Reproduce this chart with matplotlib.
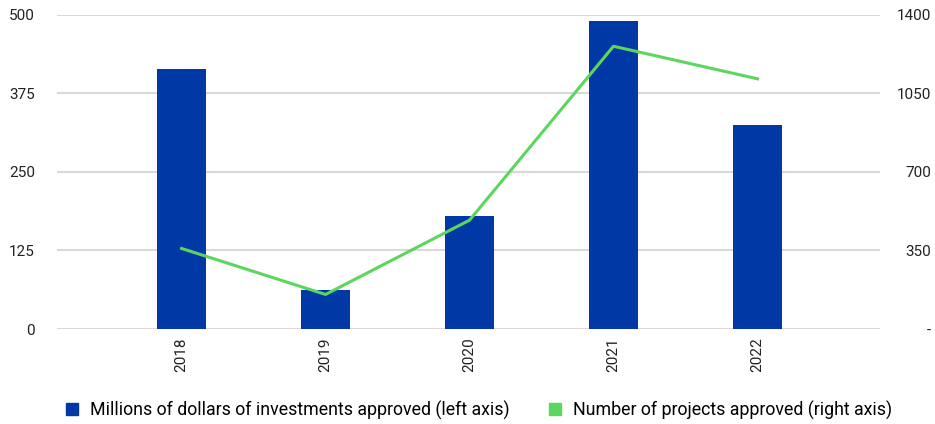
import numpy as np
import matplotlib.pyplot as plt
from matplotlib.lines import Line2D

years = ["2018", "2019", "2020", "2021", "2022"]
investments = [414, 62, 180, 490, 324]      # millions of dollars (left axis)
projects = [359, 154, 485, 1260, 1115]      # number of projects (right axis)
left_ticks = [0, 125, 250, 375, 500]
right_ticks = [0, 350, 700, 1050, 1400]
right_labels = ["-", "350", "700", "1050", "1400"]

bar_color = "#0039a6"
line_color = "#5cd65c"
grid_color = "#d9d9d9"

plt.rcParams['font.family'] = ['Roboto', 'DejaVu Sans']

fig = plt.figure(figsize=(9.35, 4.24), dpi=100)
ax = fig.add_axes([0.061, 0.224, 0.880, 0.741])
x = np.arange(len(years))

ax.bar(x, investments, width=0.34, color=bar_color, zorder=2)
ax.set_ylim(0, 500)
ax.set_yticks(left_ticks)
ax.set_xlim(-0.865, 4.85)
ax.set_xticks(x)
ax.set_xticklabels(years, rotation=90)
ax.yaxis.grid(True, color=grid_color, linewidth=1.5)
ax.set_axisbelow(True)
ax.tick_params(axis='y', length=0, pad=16, labelsize=11, labelcolor="#222222")
ax.tick_params(axis='x', length=0, pad=6, labelsize=11, labelcolor="#222222")
for s in ax.spines.values():
    s.set_visible(False)

ax2 = ax.twinx()
ax2.plot(x, projects, color=line_color, linewidth=2.2, zorder=3)
ax2.set_ylim(0, 1400)
ax2.set_yticks(right_ticks)
ax2.set_yticklabels(right_labels)
ax2.tick_params(axis='y', length=0, pad=37, labelsize=11, labelcolor="#222222")
for lab in ax2.get_yticklabels():
    lab.set_horizontalalignment('right')
for s in ax2.spines.values():
    s.set_visible(False)

handles = [
    Line2D([], [], marker='s', linestyle='none', markersize=9, color=bar_color),
    Line2D([], [], marker='s', linestyle='none', markersize=9, color=line_color),
]
labels = ["Millions of dollars of investments approved (left axis)",
          "Number of projects approved (right axis)"]
fig.legend(handles, labels, loc='center', bbox_to_anchor=(0.506, 0.033), ncol=2,
           frameon=False, handletextpad=0.0, columnspacing=1.6,
           prop={'family': ['Roboto', 'DejaVu Sans'], 'size': 12.8})

fig.savefig("out.png", dpi=100)
